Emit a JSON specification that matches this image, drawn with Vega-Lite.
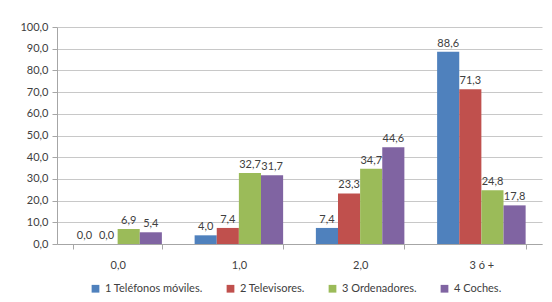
{
  "$schema": "https://vega.github.io/schema/vega-lite/v6.json",
  "width": 485,
  "height": 217,
  "autosize": "none",
  "padding": {"left": 57, "top": 27, "right": 10, "bottom": 58},
  "background": "white",
  "config": {
    "locale": {"number": {"decimal": ",", "thousands": ".", "grouping": [3], "currency": ["", " €"]}},
    "font": "Lato",
    "view": {"stroke": null},
    "axis": {"labelFont": "Lato", "labelFontSize": 11, "labelColor": "#404040", "domainColor": "#a6a6a6", "tickColor": "#a6a6a6", "gridColor": "#c8c8c8"}
  },
  "data": {
    "values": [
      {"cat": "0,0", "serie": "1 Teléfonos móviles.", "v": 0.0},
      {"cat": "0,0", "serie": "2 Televisores.", "v": 0.0},
      {"cat": "0,0", "serie": "3 Ordenadores.", "v": 6.9},
      {"cat": "0,0", "serie": "4 Coches.", "v": 5.4},
      {"cat": "1,0", "serie": "1 Teléfonos móviles.", "v": 4.0},
      {"cat": "1,0", "serie": "2 Televisores.", "v": 7.4},
      {"cat": "1,0", "serie": "3 Ordenadores.", "v": 32.7},
      {"cat": "1,0", "serie": "4 Coches.", "v": 31.7},
      {"cat": "2,0", "serie": "1 Teléfonos móviles.", "v": 7.4},
      {"cat": "2,0", "serie": "2 Televisores.", "v": 23.3},
      {"cat": "2,0", "serie": "3 Ordenadores.", "v": 34.7},
      {"cat": "2,0", "serie": "4 Coches.", "v": 44.6},
      {"cat": "3 ó +", "serie": "1 Teléfonos móviles.", "v": 88.6},
      {"cat": "3 ó +", "serie": "2 Televisores.", "v": 71.3},
      {"cat": "3 ó +", "serie": "3 Ordenadores.", "v": 24.8},
      {"cat": "3 ó +", "serie": "4 Coches.", "v": 17.8}
    ]
  },
  "encoding": {
    "x": {
      "field": "cat", "type": "nominal", "sort": null,
      "scale": {"paddingInner": 0.27, "paddingOuter": 0.135},
      "axis": {"title": null, "labelAngle": 0, "labelPadding": 10, "tickBand": "extent", "tickSize": 5, "grid": false}
    },
    "xOffset": {"field": "serie", "type": "nominal", "sort": null, "scale": {"paddingInner": 0, "paddingOuter": 0}},
    "y": {
      "field": "v", "type": "quantitative",
      "scale": {"domain": [0, 100], "nice": false},
      "axis": {"title": null, "values": [0,10,20,30,40,50,60,70,80,90,100], "labelOverlap": false, "format": ".1f", "tickSize": 5, "labelPadding": 4, "grid": true}
    }
  },
  "layer": [
    {
      "mark": {"type": "bar"},
      "encoding": {
        "color": {
          "field": "serie", "type": "nominal", "sort": null,
          "scale": {"domain": ["1 Teléfonos móviles.", "2 Televisores.", "3 Ordenadores.", "4 Coches."], "range": ["#4F81BD", "#C0504D", "#9BBB59", "#8064A2"]},
          "legend": {"title": null, "orient": "none", "legendX": 33, "legendY": 256, "direction": "horizontal", "symbolType": "square", "symbolSize": 60, "symbolStrokeWidth": 0, "labelFont": "Lato", "labelFontSize": 11, "labelColor": "#404040", "columnPadding": 22, "labelOffset": 4}
        }
      }
    },
    {
      "mark": {"type": "text", "baseline": "bottom", "dy": -3, "font": "Lato", "fontSize": 11, "color": "#404040"},
      "encoding": {
        "text": {"field": "v", "type": "quantitative", "format": ".1f"}
      }
    }
  ]
}
